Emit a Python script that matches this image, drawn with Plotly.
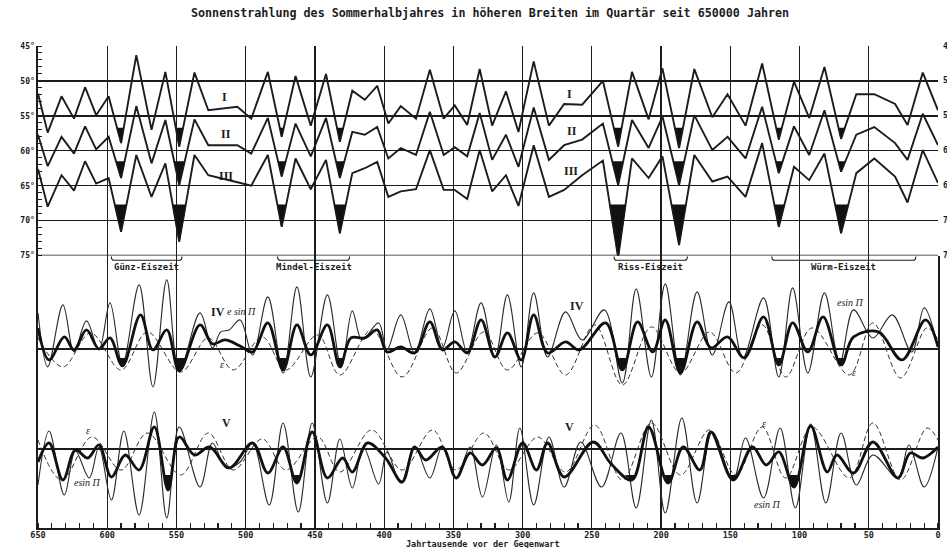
import plotly.graph_objects as go

INK = "#1c1c1c"

# ---------------- top panel: equivalent latitudes (curves I, II, III) ----------------
KY_TOP = [650, 643, 633, 624, 616, 608, 599, 590, 579, 568, 558, 548, 537, 527, 506, 496, 484, 474, 464, 453,
          442, 432, 423, 414, 405, 397, 388, 377, 367, 357, 349, 340, 331, 322, 312, 303, 292, 281, 270, 257,
          242, 231, 221, 209, 199, 187, 176, 163, 152, 139, 127, 115, 104, 93, 82, 70, 59, 46, 31, 22, 11, 0]
CURVE_I = [51.8, 57.4, 52.2, 55.4, 50.9, 54.9, 52.2, 58.9, 46.3, 57.0, 48.7, 59.4, 48.8, 54.2, 53.7, 55.4, 48.7, 58.0, 49.3, 56.4,
           49.0, 58.7, 51.4, 52.7, 50.7, 56.1, 53.6, 55.4, 48.4, 55.4, 53.5, 56.3, 48.3, 56.4, 51.5, 57.3, 47.2, 56.4, 53.3, 53.4,
           50.0, 59.4, 48.7, 55.5, 48.2, 59.6, 48.3, 55.2, 51.9, 56.4, 47.5, 58.4, 50.1, 55.3, 48.0, 58.3, 51.9, 51.9, 53.3, 56.3,
           48.8, 54.2]
CURVE_II = [57.7, 62.2, 58.0, 60.4, 56.5, 59.8, 58.0, 63.9, 53.6, 61.8, 55.6, 64.9, 55.5, 59.2, 59.2, 60.4, 55.3, 63.7, 56.1, 60.8,
            55.3, 63.9, 57.3, 57.7, 56.6, 61.1, 59.6, 60.6, 54.4, 60.6, 59.5, 60.8, 54.6, 61.3, 57.7, 62.3, 53.8, 61.3, 59.2, 58.4,
            56.1, 64.9, 55.6, 59.6, 55.1, 64.9, 54.9, 59.9, 58.0, 61.1, 53.7, 63.2, 56.5, 60.6, 54.2, 63.0, 57.7, 56.6, 58.9, 61.3,
            54.7, 59.2]
CURVE_III = [62.6, 68.0, 63.5, 65.7, 61.5, 64.7, 63.9, 71.6, 60.6, 66.6, 61.8, 73.0, 60.6, 63.5, 64.5, 65.0, 60.6, 70.9, 61.1, 65.5,
             61.3, 71.8, 63.2, 62.5, 61.6, 66.6, 65.8, 65.5, 59.9, 65.6, 65.6, 66.9, 59.9, 65.8, 63.5, 67.9, 59.2, 66.6, 65.6, 63.5,
             61.4, 75.3, 61.1, 63.9, 60.8, 73.5, 60.6, 64.4, 63.7, 66.6, 58.9, 70.9, 62.3, 64.2, 60.4, 71.8, 63.2, 61.1, 63.7, 67.4,
             59.9, 64.6]
GLACIAL_TOP = [590, 548, 474, 432, 231, 187, 115, 70]
THRESH_TOP = [56.7, 61.5, 67.7]

DEG_TICKS = [45, 50, 55, 60, 65, 70, 75]
DEG_LABELS = ["45°", "50°", "55°", "60°", "65°", "70°", "75°"]
KY_TICKS = [650, 600, 550, 500, 450, 400, 350, 300, 250, 200, 150, 100, 50, 0]

ICE_AGES = ["Günz-Eiszeit", "Mindel-Eiszeit", "Riss-Eiszeit", "Würm-Eiszeit"]
ICE_START = [597, 477, 234, 120]
ICE_END = [546, 425, 181, 16]

# ---------------- panel IV ----------------
IV_THIN_KY = [650, 643, 632, 624, 615, 606, 598, 589, 577, 567, 557, 548, 533, 524, 518, 512, 504, 495, 484, 473,
              463, 453, 441, 431, 423, 416, 404, 398, 388, 378, 367, 358, 349, 340, 330, 320, 311, 301, 292, 282,
              269, 257, 241, 228, 218, 207, 197, 186, 174, 163, 151, 141, 126, 115, 105, 94, 82, 71, 61, 47,
              33, 19, 10, 0]
IV_THIN = [3.6, -1.8, 4.4, -0.3, 2.8, -0.1, 4.6, -1.6, 6.4, -3.8, 6.9, -2.3, 3.6, 0.1, 1.7, 1.9, 2.9, -0.6, 5.2, -2.4,
           6.2, -2.8, 5.4, -1.8, 3.8, 0.9, 2.6, -0.1, 3.4, -0.4, 4.0, 0.1, 3.8, -0.3, 4.6, -0.9, 5.4, -1.8, 5.6, -0.8,
           3.7, 0.9, 3.9, -3.4, 6.0, -2.8, 6.5, -2.6, 5.7, -0.6, 4.7, -0.9, 5.1, -2.8, 6.1, -2.4, 5.6, -1.4, 3.9, 1.1,
           3.4, -0.3, 4.1, 0.2]
IV_EPS_KY = [650, 632, 612, 590, 571, 547, 527, 509, 488, 471, 448, 432, 409, 387, 365, 348, 328, 311, 289, 269,
             248, 228, 207, 186, 165, 146, 127, 110, 91, 64, 47, 27, 8, 0]
IV_EPS = [1.1, -1.8, 1.6, -2.1, 1.7, -2.3, 1.1, -2.1, 1.2, -2.1, 1.4, -2.6, 1.9, -2.8, 2.1, -2.4, 1.7, -2.1, 1.6, -2.6,
          2.4, -3.6, 2.2, -2.4, 1.7, -2.4, 2.4, -2.8, 2.1, -2.6, 2.6, -2.9, 2.1, 0.9]
IV_SUM_KY = [650, 642, 631, 624, 615, 606, 598, 589, 576, 567, 557, 548, 533, 524, 515, 504, 495, 484, 473, 463,
             453, 441, 432, 424, 414, 405, 398, 388, 378, 367, 358, 349, 340, 330, 320, 311, 301, 292, 282, 269,
             259, 240, 228, 217, 206, 197, 186, 174, 164, 152, 140, 126, 115, 105, 94, 83, 70, 61, 43, 26,
             9, 0]
IV_SUM = [2.1, -1.1, 1.2, -0.1, 1.9, 0.0, 1.1, -1.7, 3.4, -0.1, 1.9, -2.2, 2.4, 0.5, 0.9, 0.3, -0.3, 2.6, -2.1, 2.4,
          -0.6, 2.4, -1.8, 1.1, 1.1, 1.9, -0.3, 0.2, -0.4, 2.7, -0.1, 0.7, -0.4, 2.9, -0.8, 1.6, -1.1, 3.4, -0.4, 0.7,
          -0.1, 2.6, -2.1, 2.7, -0.3, 2.9, -2.4, 2.7, 0.1, 1.2, -0.9, 3.2, -1.6, 2.6, -0.3, 3.2, -1.6, 1.2, 1.7, -1.1,
          2.9, 0.2]
IV_GLACIAL = [589, 548, 473, 432, 228, 186, 115, 70]
IV_THRESH = -0.9

# ---------------- panel V ----------------
V_THIN_KY = [650, 642, 631, 623, 613, 606, 597, 588, 577, 566, 557, 548, 533, 524, 514, 504, 495, 483, 473, 462,
             452, 441, 432, 423, 415, 404, 398, 388, 378, 367, 358, 348, 338, 329, 319, 310, 302, 292, 281, 270,
             258, 243, 229, 218, 207, 197, 185, 174, 163, 148, 139, 126, 114, 103, 92, 81, 70, 59, 47, 29,
             21, 10, 0]
V_THIN = [-3.6, 1.8, -4.6, -0.2, -2.9, 0.2, -5.1, 1.8, -6.6, 3.7, -6.9, 2.2, -3.8, 0.6, -1.9, -1.3, 0.6, -5.6, 2.6, -6.3,
          2.6, -5.4, 1.0, -3.9, 0.2, -3.5, -0.3, -3.4, 0.2, -2.9, 0.2, -2.9, 0.2, -4.8, 0.4, -5.3, 2.1, -5.6, 1.2, -3.8,
          0.7, -3.8, 1.6, -5.9, 2.9, -6.4, 3.1, -5.4, 1.7, -3.1, 1.1, -4.9, 2.1, -5.9, 2.5, -5.4, 1.6, -3.6, -0.6, -2.9,
          0.4, -3.8, 0.2]
V_EPS_KY = [650, 633, 611, 590, 571, 547, 527, 509, 488, 471, 448, 432, 409, 387, 365, 348, 328, 310, 289, 269,
            248, 228, 207, 186, 165, 146, 127, 110, 91, 64, 47, 27, 8, 0]
V_EPS = [0.9, -3.1, 1.2, -2.1, 1.6, -2.6, 1.6, -2.1, 1.0, -2.1, 1.2, -2.3, 1.9, -2.1, 1.9, -2.1, 1.6, -2.1, 1.2, -2.3,
         2.4, -3.1, 2.6, -2.6, 1.9, -2.6, 2.2, -2.9, 2.2, -2.9, 2.6, -3.1, 2.1, 0.9]
V_SUM_KY = [650, 642, 632, 623, 614, 606, 597, 587, 577, 566, 556, 548, 537, 526, 512, 495, 484, 473, 463, 452,
            441, 430, 423, 412, 399, 387, 378, 370, 358, 348, 338, 329, 319, 311, 300, 290, 282, 270, 249, 236,
            221, 209, 195, 184, 172, 164, 148, 134, 124, 115, 104, 92, 80, 73, 61, 47, 29, 20, 11, 0]
V_SUM = [-1.3, 0.6, -3.1, -0.1, -0.9, 0.4, -2.8, -0.6, -2.1, 2.2, -4.1, 1.2, -0.6, 0.2, -1.9, 0.6, -2.4, 0.2, -3.4, 1.7,
         -2.9, -0.9, -2.3, 0.6, -0.9, -3.3, 0.2, -1.1, 0.2, -2.9, -0.4, -1.6, 0.1, -3.1, 0.6, -2.1, 0.6, -2.8, 0.7, -1.5,
         -3.1, 2.2, -3.4, 0.2, -2.1, 1.7, -3.1, 0.2, -1.6, -0.3, -3.8, 2.3, -2.3, -0.6, -2.4, 0.7, -2.9, -0.4, -0.9, 0.2]
V_GLACIAL = [556, 463, 221, 195, 148, 104]
V_THRESH = -2.6


def dip(xs, ys, k, thr):
    """Region of a minimum beyond the threshold, bounded by the threshold level."""
    xt, yt = xs[k], ys[k]
    ends = []
    for j in (k - 1, k + 1):
        xa, ya = xs[j], ys[j]
        if (ya - thr) * (yt - thr) < 0:
            t = (thr - yt) / (ya - yt)
            ends.append(xt + t * (xa - xt))
        else:
            ends.append(xa)
    return [ends[0], xt, ends[1]], [thr, yt, thr]


fig = go.Figure()

for ys, thr in zip([CURVE_I, CURVE_II, CURVE_III], THRESH_TOP):
    fig.add_trace(go.Scatter(x=KY_TOP, y=ys, mode="lines", line=dict(color=INK, width=1.9),
                             hoverinfo="skip", xaxis="x", yaxis="y"))
    for g in GLACIAL_TOP:
        k = KY_TOP.index(g)
        px, py = dip(KY_TOP, ys, k, thr)
        fig.add_trace(go.Scatter(x=px, y=py, mode="lines", fill="toself", fillcolor="#111111",
                                 line=dict(color=INK, width=0.8), hoverinfo="skip", xaxis="x", yaxis="y"))

fig.add_trace(go.Scatter(x=IV_EPS_KY, y=IV_EPS, mode="lines", line=dict(color="#333333", width=1, dash="5px,3px", shape="spline"),
                         hoverinfo="skip", xaxis="x", yaxis="y2"))
fig.add_trace(go.Scatter(x=IV_THIN_KY, y=IV_THIN, mode="lines", line=dict(color="#2a2a2a", width=1.1, shape="spline"),
                         hoverinfo="skip", xaxis="x", yaxis="y2"))
fig.add_trace(go.Scatter(x=IV_SUM_KY, y=IV_SUM, mode="lines", line=dict(color="#111111", width=2.8, shape="spline"),
                         hoverinfo="skip", xaxis="x", yaxis="y2"))
for g in IV_GLACIAL:
    k = IV_SUM_KY.index(g)
    px, py = dip(IV_SUM_KY, IV_SUM, k, IV_THRESH)
    fig.add_trace(go.Scatter(x=px, y=py, mode="lines", fill="toself", fillcolor="#111111",
                             line=dict(color="#111111", width=1, shape="spline"), hoverinfo="skip", xaxis="x", yaxis="y2"))

fig.add_trace(go.Scatter(x=V_EPS_KY, y=V_EPS, mode="lines", line=dict(color="#333333", width=1, dash="5px,3px", shape="spline"),
                         hoverinfo="skip", xaxis="x", yaxis="y3"))
fig.add_trace(go.Scatter(x=V_THIN_KY, y=V_THIN, mode="lines", line=dict(color="#2a2a2a", width=1.1, shape="spline"),
                         hoverinfo="skip", xaxis="x", yaxis="y3"))
fig.add_trace(go.Scatter(x=V_SUM_KY, y=V_SUM, mode="lines", line=dict(color="#111111", width=2.8, shape="spline"),
                         hoverinfo="skip", xaxis="x", yaxis="y3"))
for g in V_GLACIAL:
    k = V_SUM_KY.index(g)
    px, py = dip(V_SUM_KY, V_SUM, k, V_THRESH)
    fig.add_trace(go.Scatter(x=px, y=py, mode="lines", fill="toself", fillcolor="#111111",
                             line=dict(color="#111111", width=1, shape="spline"), hoverinfo="skip", xaxis="x", yaxis="y3"))

TICKFONT = dict(family="DejaVu Sans Mono", size=9, color=INK, weight="bold")
BOTFONT = dict(family="DejaVu Sans Mono", size=8.5, color=INK, weight="bold")
YFONT = dict(family="DejaVu Sans Mono", size=8, color=INK, weight="bold")

fig.update_layout(
    width=947, height=548,
    margin=dict(l=38, r=9, t=46, b=20, autoexpand=False),
    paper_bgcolor="white", plot_bgcolor="white",
    showlegend=False,
    xaxis=dict(range=[650, 0], anchor="y3", domain=[0, 1], tickvals=KY_TICKS, ticks="", automargin=False,
               ticklabelstandoff=-2,
               showgrid=True, gridcolor=INK, gridwidth=1.3, zeroline=False,
               showline=True, linecolor=INK, linewidth=1.6, tickfont=BOTFONT,
               minor=dict(dtick=10, tick0=0, ticks="inside", ticklen=5, tickcolor=INK, tickwidth=1.2, showgrid=False)),
    xaxis2=dict(range=[650, 0], overlaying="x", side="top", anchor="y", tickvals=KY_TICKS, ticks="", automargin=False,
                showgrid=False, zeroline=False, showline=True, linecolor=INK, linewidth=1.6, tickfont=TICKFONT,
                minor=dict(dtick=10, tick0=0, ticks="inside", ticklen=5, tickcolor=INK, tickwidth=1.2, showgrid=False)),
    yaxis=dict(domain=[0.5652, 1], range=[75, 45], anchor="x", tickvals=DEG_TICKS, ticktext=DEG_LABELS, automargin=False,
               ticks="", showgrid=True, gridcolor=INK, gridwidth=1.4, zeroline=False,
               showline=True, linecolor=INK, linewidth=1.6, tickfont=YFONT,
               minor=dict(dtick=1, tick0=45, ticks="inside", ticklen=4, tickcolor=INK, tickwidth=1, showgrid=False)),
    yaxis4=dict(overlaying="y", side="right", range=[75, 45], anchor="x", tickvals=DEG_TICKS, showticklabels=False,
                automargin=False, ticks="", showgrid=False, zeroline=False, showline=True, linecolor=INK, linewidth=1.6,
                minor=dict(dtick=1, tick0=45, ticks="inside", ticklen=4, tickcolor=INK, tickwidth=1, showgrid=False)),
    yaxis2=dict(domain=[0.2656, 0.5652], range=[-5.1, 9.33], anchor="x", showticklabels=False, ticks="", automargin=False,
                showgrid=False, zeroline=True, zerolinecolor=INK, zerolinewidth=1.6,
                showline=True, mirror=True, linecolor=INK, linewidth=1.6),
    yaxis3=dict(domain=[0, 0.2656], range=[-7.9, 4.9], anchor="x", showticklabels=False, ticks="", automargin=False,
                showgrid=False, zeroline=True, zerolinecolor=INK, zerolinewidth=1.6,
                showline=True, mirror=True, linecolor=INK, linewidth=1.6),
)

fig.add_shape(type="line", xref="paper", yref="y", x0=0, x1=1, y0=75, y1=75, line=dict(color=INK, width=1.6))

# right-hand degree labels (cut by the page edge, as in the original scan)
for v, lab in zip(DEG_TICKS, DEG_LABELS):
    fig.add_annotation(x=1.0035, y=v, xref="paper", yref="y", text=lab, showarrow=False, font=YFONT,
                       xanchor="left", yanchor="middle")

for name, a, b in zip(ICE_AGES, ICE_START, ICE_END):
    path = (f"M {a},0.5635 Q {a},0.5555 {a - 2},0.5555 L {b + 2},0.5555 Q {b},0.5555 {b},0.5635")
    fig.add_shape(type="path", xref="x", yref="paper", path=path, line=dict(color=INK, width=1.1))
    fig.add_annotation(x=(a + b) / 2, y=0.5425, xref="x", yref="paper", text=name, showarrow=False,
                       font=dict(family="DejaVu Sans Mono", size=9, color=INK, weight="bold"),
                       xanchor="center", yanchor="middle")

ROMAN = dict(family="Liberation Serif", size=12, color=INK, weight="bold")
ITAL = dict(family="Liberation Serif", size=10, color=INK)

for txt, x, y in [("I", 515, 52.3), ("I", 266, 51.9), ("II", 514, 57.6), ("II", 264, 57.2),
                  ("III", 514, 63.6), ("III", 265, 62.9)]:
    fig.add_annotation(x=x, y=y, xref="x", yref="y", text=txt, showarrow=False, font=ROMAN)

fig.add_annotation(x=520, y=3.7, xref="x", yref="y2", text="IV", showarrow=False, font=ROMAN)
fig.add_annotation(x=503, y=3.7, xref="x", yref="y2", text="<i>e sin Π</i>", showarrow=False, font=ITAL)
fig.add_annotation(x=517, y=-1.6, xref="x", yref="y2", text="<i>ε</i>", showarrow=False, font=ITAL)
fig.add_annotation(x=261, y=4.3, xref="x", yref="y2", text="IV", showarrow=False, font=ROMAN)
fig.add_annotation(x=63, y=4.6, xref="x", yref="y2", text="<i>esin Π</i>", showarrow=False, font=ITAL)
fig.add_annotation(x=61, y=-2.4, xref="x", yref="y2", text="<i>ε</i>", showarrow=False, font=ITAL)

fig.add_annotation(x=514, y=2.6, xref="x", yref="y3", text="V", showarrow=False, font=ROMAN)
fig.add_annotation(x=614, y=1.8, xref="x", yref="y3", text="<i>ε</i>", showarrow=False, font=ITAL)
fig.add_annotation(x=614, y=-3.4, xref="x", yref="y3", text="<i>esin Π</i>", showarrow=False, font=ITAL)
fig.add_annotation(x=266, y=2.2, xref="x", yref="y3", text="V", showarrow=False, font=ROMAN)
fig.add_annotation(x=126, y=2.5, xref="x", yref="y3", text="<i>ε</i>", showarrow=False, font=ITAL)
fig.add_annotation(x=123, y=-5.5, xref="x", yref="y3", text="<i>esin Π</i>", showarrow=False, font=ITAL)

fig.add_annotation(x=0.502, y=1.069, xref="paper", yref="paper", showarrow=False,
                   text="Sonnenstrahlung des Sommerhalbjahres in höheren Breiten im Quartär seit 650000 Jahren",
                   font=dict(family="DejaVu Sans Mono", size=11.7, color=INK, weight="bold"),
                   xanchor="center", yanchor="middle")
fig.add_annotation(x=0.494, y=-0.0325, xref="paper", yref="paper", showarrow=False,
                   text="Jahrtausende vor der Gegenwart",
                   font=dict(family="DejaVu Sans Mono", size=8.5, color=INK, weight="bold"),
                   xanchor="center", yanchor="middle")

fig.write_html("out.html", config={"displayModeBar": False, "staticPlot": True},
               post_script="document.body.style.margin='0';document.body.style.padding='0';"
                           "document.body.style.overflow='hidden';")
